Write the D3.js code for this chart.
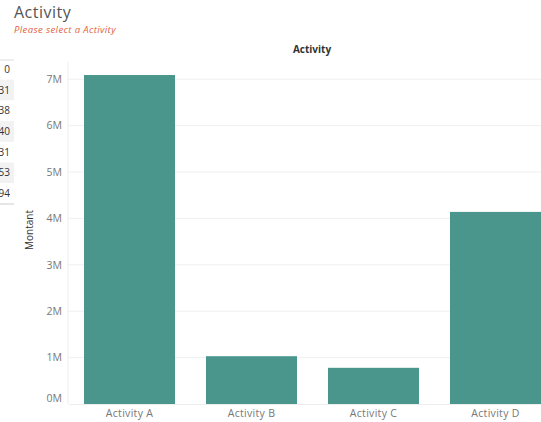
<!DOCTYPE html>
<html>
<head>
<meta charset="utf-8">
<script src="https://cdn.jsdelivr.net/npm/d3@7"></script>
<style>
  body { margin: 0; background: #fff; font-family: 'Open Sans', sans-serif; }
  svg text { fill: #666; }
</style>
</head>
<body>
<svg id="chart"></svg>
<script>
var categories = ['Activity A', 'Activity B', 'Activity C', 'Activity D'];
var montants = [7090000, 1030000, 780000, 4140000];
var yTicks = [0, 1000000, 2000000, 3000000, 4000000, 5000000, 6000000, 7000000];
// leftover column of the neighbouring table, cut off at the left edge
var sideValues = ['0', '31', '38', '40', '31', '53', '94'];

var width = 541, height = 422;
var svg = d3.select('#chart').attr('width', width).attr('height', height);

/* title block */
svg.append('text').attr('x', 14).attr('y', 17.5)
  .style('font-size', '16px').style('fill', '#555').style('letter-spacing', '0.5px')
  .text('Activity');
svg.append('text').attr('x', 14).attr('y', 32.5)
  .style('font-size', '9.5px').style('font-style', 'italic').style('fill', '#e2623f')
  .style('letter-spacing', '0.4px')
  .text('Please select a Activity');

/* side table fragment */
var rowY = d3.scaleBand().domain(d3.range(sideValues.length)).range([59, 204]);
var side = svg.append('g');
side.selectAll('rect').data(sideValues).enter().append('rect')
  .attr('x', 0).attr('width', 14)
  .attr('y', function(d, i) { return rowY(i); })
  .attr('height', rowY.bandwidth())
  .attr('fill', function(d, i) { return i % 2 ? '#f2f2f2' : '#fff'; });
side.selectAll('text').data(sideValues).enter().append('text')
  .attr('x', 10).attr('text-anchor', 'end')
  .attr('y', function(d, i) { return rowY(i) + rowY.bandwidth() / 2 + 3.5; })
  .style('font-size', '10px').style('fill', '#333').text(function(d) { return d; });
side.append('line').attr('x1', 0).attr('x2', 14).attr('y1', 60).attr('y2', 60).attr('stroke', '#ddd');
side.append('line').attr('x1', 0).attr('x2', 14).attr('y1', 204).attr('y2', 204).attr('stroke', '#ccc');

/* scales */
var x = d3.scaleBand().domain(categories).range([68.5, 556.5])
  .paddingInner(0.254).paddingOuter(0.127);
var y = d3.scaleLinear().domain([0, 7000000]).range([404, 404 - 7 * 46.4]);

/* header */
svg.append('text').attr('x', 312).attr('y', 53).attr('text-anchor', 'middle')
  .style('font-size', '10px').style('font-weight', 'bold').style('fill', '#333')
  .text('Activity');

/* grid */
svg.append('g').selectAll('line').data(yTicks.slice(1)).enter().append('line')
  .attr('x1', 68).attr('x2', width)
  .attr('y1', function(d) { return y(d); }).attr('y2', function(d) { return y(d); })
  .attr('stroke', '#f0f0f0');
svg.append('line').attr('x1', 68).attr('x2', 68).attr('y1', 62).attr('y2', 404)
  .attr('stroke', '#eee');

/* y axis */
var yAxis = d3.axisLeft(y).tickValues(yTicks).tickSize(0).tickPadding(6)
  .tickFormat(function(d) { return d / 1000000 + 'M'; });
var gY = svg.append('g').attr('transform', 'translate(68,0)').call(yAxis);
gY.select('.domain').remove();
gY.selectAll('text').style('font-size', '10.5px').style('fill', '#777').style('font-family', 'Open Sans')
  .attr('dy', function(d) { return d === 0 ? '-0.2em' : '0.32em'; });

svg.append('text').attr('transform', 'translate(33,230) rotate(-90)')
  .attr('text-anchor', 'middle').style('font-size', '10px').style('fill', '#333')
  .text('Montant');

/* bars */
svg.append('g').selectAll('.bar').data(montants).enter().append('rect')
  .attr('class', 'bar')
  .attr('x', function(d, i) { return x(categories[i]); })
  .attr('width', x.bandwidth())
  .attr('y', function(d) { return y(d); })
  .attr('height', function(d) { return y(0) - y(d); })
  .attr('fill', '#4a968c');

/* x axis */
var xAxis = d3.axisBottom(x).tickSize(0).tickPadding(6);
var gX = svg.append('g').attr('transform', 'translate(0,404)').call(xAxis);
gX.select('.domain').attr('stroke', '#eee');
gX.selectAll('text').style('font-size', '10.5px').style('fill', '#777').style('font-family', 'Open Sans')
  .style('letter-spacing', '0.3px');
</script>
</body>
</html>
